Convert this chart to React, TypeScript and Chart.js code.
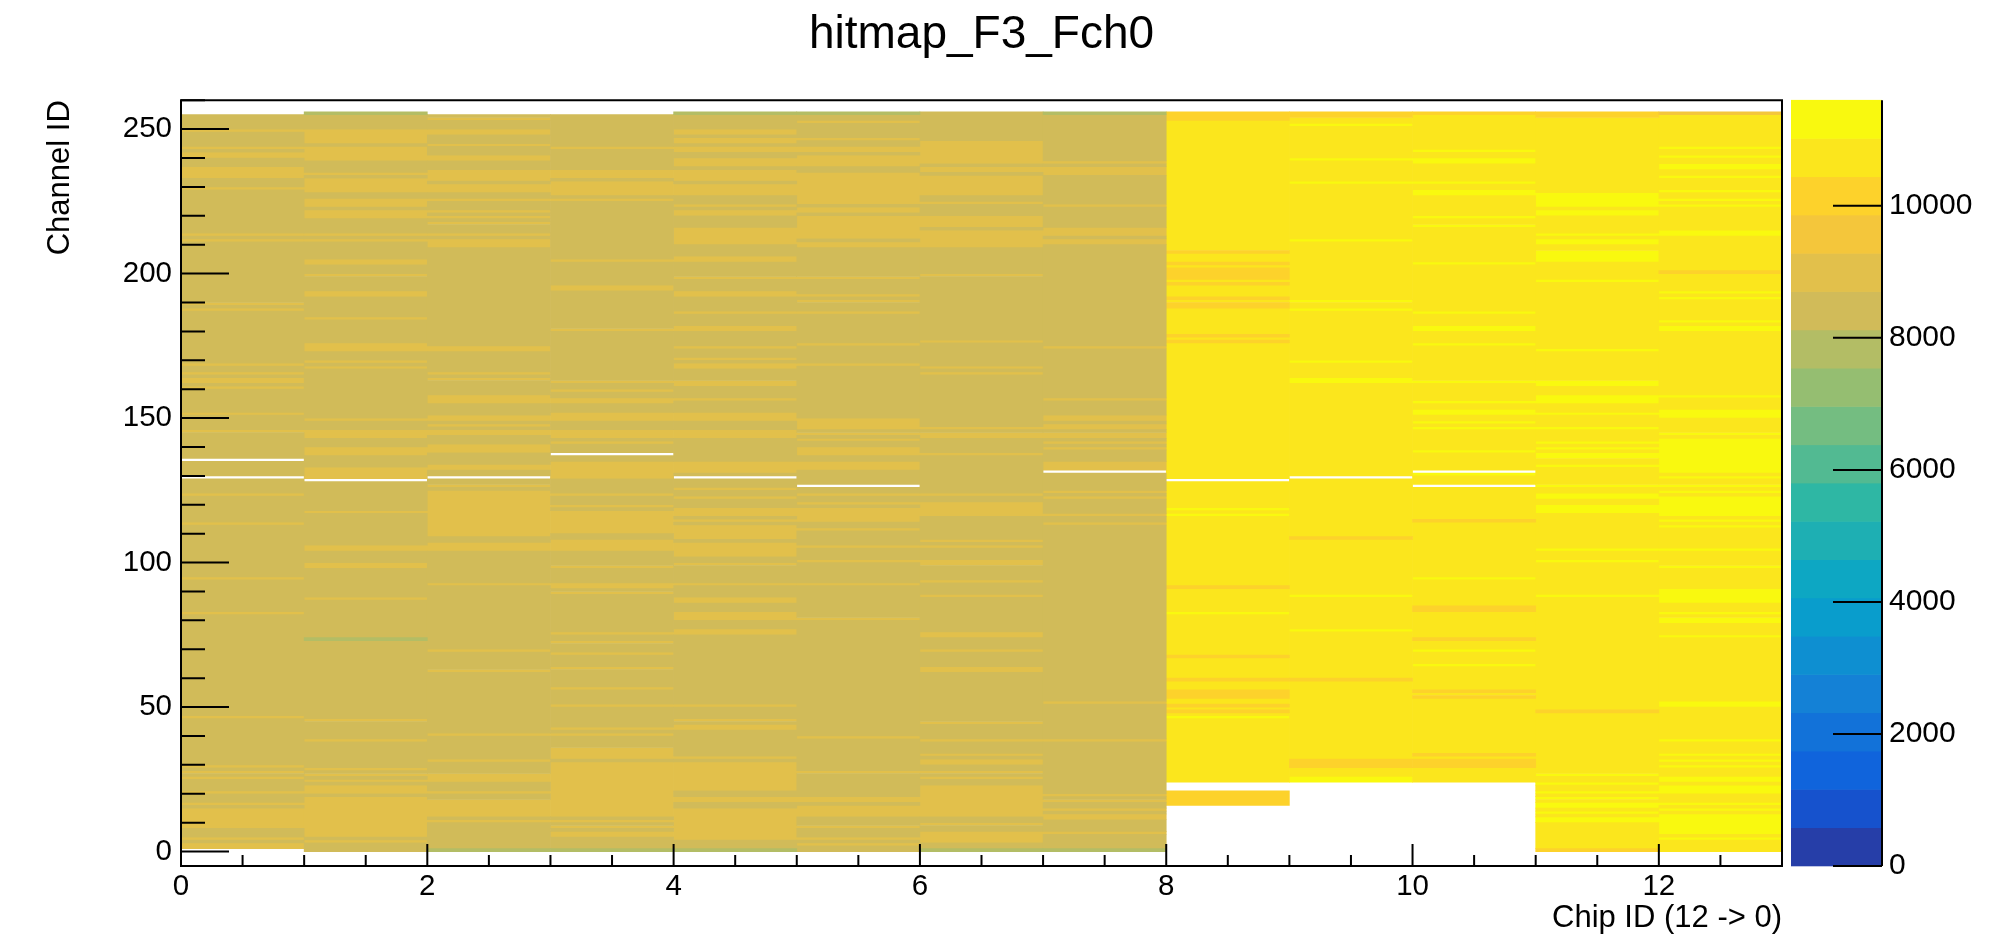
import React, { useEffect, useRef } from "react";
import { Chart, registerables } from "chart.js";

Chart.register(...registerables);

type Stripe = [number, number, number]; // [first channel, last channel, hits]

const chartTitle = "hitmap_F3_Fch0";
const xAxisTitle = "Chip ID (12 -> 0)";
const yAxisTitle = "Channel ID";

const chipIds = [0, 1, 2, 3, 4, 5, 6, 7, 8, 9, 10, 11, 12];
const xLimits = [0, 13];
const yLimits = [-5, 260];
const zLimits = [0, 11600];
const zContours = 20;
const xMajorTicks = [0, 2, 4, 6, 8, 10, 12];
const xAllTicks = [0, 0.5, 1, 1.5, 2, 2.5, 3, 3.5, 4, 4.5, 5, 5.5, 6, 6.5, 7, 7.5, 8, 8.5, 9, 9.5, 10, 10.5, 11, 11.5, 12, 12.5, 13];
const yMajorTicks = [0, 50, 100, 150, 200, 250];
const yAllTicks = [0, 10, 20, 30, 40, 50, 60, 70, 80, 90, 100, 110, 120, 130, 140, 150, 160, 170, 180, 190, 200, 210, 220, 230, 240, 250, 260];
const zMajorTicks = [0, 2000, 4000, 6000, 8000, 10000];

const chipFirstChannel = [1, 0, 0, 0, 0, 0, 0, 0, 16, 24, 24, 0, 0];
const chipLastChannel = [254, 255, 254, 254, 255, 255, 255, 255, 255, 255, 255, 255, 255];
const chipBaseHits = [8400, 8400, 8400, 8400, 8400, 8400, 8400, 8400, 10700, 10700, 10700, 10700, 10700];
const chipEmptyChannels = [[135, 129], [128], [129], [137], [129], [126], [], [131], [21, 22, 23, 128], [129], [131, 126], [], []];

const chip00: Stripe[] = [
  [249, 249, 9000], [243, 243, 9000], [240, 241, 9000], [233, 236, 9000], [229, 229, 9000], [213, 213, 9000], [211, 211, 9000],
  [189, 189, 9000], [187, 187, 9000], [168, 168, 9000], [165, 165, 9000], [162, 163, 9000], [160, 160, 9000], [151, 151, 9000], [145, 145, 9000],
  [123, 123, 9000], [113, 113, 9000], [94, 94, 9000], [82, 82, 9000], [46, 46, 9000], [29, 29, 9000], [27, 27, 9000], [25, 25, 9000],
  [20, 20, 9000], [16, 16, 9000], [8, 14, 9000], [4, 4, 9000], [1, 2, 9000],
];
const chip01: Stripe[] = [
  [255, 255, 7800], [245, 249, 9000], [239, 243, 9000], [234, 234, 9000], [232, 232, 9000], [228, 231, 9000], [223, 225, 9000], [219, 221, 9000],
  [213, 213, 9000], [211, 211, 9000], [203, 204, 9000], [199, 199, 9000], [192, 193, 9000], [184, 184, 9000], [173, 175, 9000], [169, 169, 9000],
  [167, 167, 9000], [149, 149, 9000], [143, 145, 9000], [137, 139, 9000], [129, 132, 9000],
  [117, 117, 9000], [104, 105, 9000], [98, 99, 9000], [87, 87, 9000], [73, 73, 7800], [45, 45, 9000], [38, 38, 9000], [28, 28, 9000],
  [26, 26, 9000], [24, 24, 9000], [20, 22, 9000], [5, 18, 9000], [3, 3, 9000],
];
const chip02: Stripe[] = [
  [253, 253, 9000], [248, 249, 9000], [244, 244, 9000], [239, 240, 9000], [232, 235, 9000], [228, 230, 9000], [225, 225, 9000], [221, 221, 9000],
  [219, 219, 9000], [217, 217, 9000], [213, 213, 9000], [209, 211, 9000], [173, 174, 9000], [165, 165, 9000], [163, 163, 9000], [155, 157, 9000],
  [149, 150, 9000], [147, 147, 9000], [144, 145, 9000], [138, 140, 9000], [132, 133, 9000],
  [126, 126, 9000], [109, 124, 9000], [104, 106, 9000], [92, 92, 9000], [69, 69, 9000], [62, 62, 9000], [40, 40, 9000], [31, 31, 9000],
  [24, 26, 9000], [20, 20, 9000], [12, 17, 9000], [10, 10, 9000], [0, 0, 7800],
];
const chip03: Stripe[] = [
  [243, 243, 9000], [233, 235, 9000], [227, 231, 9000], [225, 225, 9000], [204, 204, 9000], [194, 195, 9000], [180, 180, 9000], [162, 162, 9000],
  [159, 159, 9000], [155, 156, 9000], [149, 151, 9000], [143, 145, 9000], [141, 141, 9000], [129, 134, 9000],
  [123, 123, 9000], [119, 119, 9000], [110, 117, 9000], [104, 107, 9000], [98, 98, 9000], [91, 92, 9000], [89, 89, 9000], [75, 75, 9000],
  [72, 72, 9000], [68, 68, 9000], [63, 63, 9000], [56, 56, 9000], [50, 50, 9000], [42, 42, 9000], [40, 40, 9000], [32, 35, 9000],
  [12, 30, 9000], [10, 10, 9000], [8, 8, 9000], [5, 6, 9000], [0, 0, 7800],
];
const chip04: Stripe[] = [
  [255, 255, 7800], [248, 249, 9000], [245, 246, 9000], [242, 243, 9000], [237, 239, 9000], [232, 235, 9000], [227, 230, 9000], [223, 223, 9000],
  [220, 221, 9000], [210, 215, 9000], [204, 205, 9000], [198, 198, 9000], [192, 193, 9000], [186, 186, 9000], [180, 181, 9000], [174, 174, 9000],
  [170, 170, 9000], [167, 168, 9000], [161, 162, 9000], [156, 156, 9000], [149, 151, 9000], [143, 145, 9000], [131, 134, 9000],
  [125, 125, 9000], [122, 122, 9000], [116, 118, 9000], [114, 114, 9000], [108, 112, 9000], [102, 106, 9000], [99, 99, 9000], [92, 92, 9000],
  [86, 87, 9000], [80, 82, 9000], [75, 76, 9000], [50, 50, 9000], [45, 45, 9000], [42, 43, 9000], [32, 32, 9000], [21, 30, 9000],
  [17, 18, 9000], [4, 14, 9000], [0, 0, 7800],
];
const chip05: Stripe[] = [
  [255, 255, 7800], [252, 252, 9000], [246, 246, 9000], [242, 243, 9000], [237, 240, 9000], [234, 234, 9000], [224, 233, 9000], [221, 222, 9000],
  [212, 219, 9000], [209, 210, 9000], [198, 198, 9000], [192, 192, 9000], [190, 190, 9000], [186, 186, 9000], [175, 175, 9000], [168, 168, 9000],
  [146, 149, 9000], [144, 144, 9000], [142, 142, 9000], [137, 139, 9000], [132, 134, 9000],
  [123, 123, 9000], [120, 120, 9000], [114, 118, 9000], [111, 111, 9000], [105, 105, 9000], [100, 100, 9000], [92, 92, 9000], [80, 80, 9000],
  [39, 39, 9000], [27, 27, 9000], [17, 18, 9000], [12, 15, 9000], [8, 8, 9000], [4, 4, 9000], [2, 2, 9000],
];
const chip06: Stripe[] = [
  [238, 245, 9000], [235, 236, 9000], [227, 233, 9000], [224, 224, 9000], [216, 219, 9000], [209, 214, 9000], [199, 199, 9000], [176, 176, 9000],
  [167, 167, 9000], [165, 165, 9000], [146, 146, 9000], [143, 144, 9000], [137, 137, 9000],
  [123, 123, 9000], [116, 120, 9000], [107, 107, 9000], [105, 105, 9000], [99, 100, 9000], [93, 93, 9000], [88, 88, 9000], [74, 75, 9000],
  [69, 69, 9000], [62, 63, 9000], [44, 44, 9000], [38, 38, 9000], [33, 33, 9000], [30, 31, 9000], [27, 27, 9000], [25, 25, 9000],
  [12, 22, 9000], [9, 9, 9000], [3, 6, 9000], [0, 0, 7800],
];
const chip07: Stripe[] = [
  [255, 255, 7800], [238, 238, 9000], [234, 236, 9000], [223, 223, 9000], [213, 215, 9000], [210, 211, 9000], [174, 174, 9000], [156, 156, 9000],
  [149, 150, 9000], [146, 147, 9000], [143, 144, 9000], [141, 141, 9000], [139, 139, 9000], [132, 134, 9000],
  [124, 124, 9000], [122, 122, 9000], [116, 116, 9000], [113, 113, 9000], [51, 51, 9000], [38, 38, 9000], [19, 19, 9000], [17, 17, 9000],
  [14, 14, 9000], [11, 12, 9000], [6, 6, 9000], [0, 0, 7800],
];
const chip08: Stripe[] = [
  [253, 255, 10150], [207, 207, 10150], [203, 203, 10150], [198, 201, 10150], [196, 196, 10150], [191, 191, 10150], [188, 189, 10150],
  [178, 178, 10150], [176, 176, 10150],
  [118, 118, 11300], [116, 116, 11300], [91, 91, 10150], [82, 82, 11300], [67, 67, 10150], [59, 59, 10150], [53, 55, 10150], [50, 50, 10150],
  [48, 48, 10150], [46, 46, 11300], [16, 20, 10150],
];
const chip09: Stripe[] = [
  [254, 255, 10150], [251, 251, 11300], [239, 239, 11300], [231, 231, 11300], [211, 211, 11300], [190, 190, 11300], [187, 187, 11300],
  [169, 169, 11300], [162, 163, 11300],
  [108, 108, 10150], [88, 88, 11300], [76, 76, 11300], [59, 59, 10150], [29, 31, 10150], [24, 25, 11300],
];
const chip10: Stripe[] = [
  [255, 255, 10150], [242, 242, 11300], [238, 239, 11300], [231, 231, 11300], [227, 228, 11300], [219, 219, 11300], [216, 216, 11300],
  [203, 203, 11300], [186, 186, 11300], [180, 181, 11300], [175, 175, 11300], [162, 162, 11300], [155, 155, 11300], [151, 152, 11300],
  [148, 148, 11300], [146, 146, 11300], [138, 138, 11300], [130, 130, 11300],
  [114, 114, 10150], [94, 94, 11300], [83, 84, 10150], [73, 73, 10150], [69, 69, 11300], [64, 64, 11300], [55, 55, 10150], [53, 53, 10150],
  [33, 33, 10150], [29, 31, 10150],
];
const chip11: Stripe[] = [
  [254, 255, 10150], [223, 227, 11300], [220, 221, 11300], [213, 213, 11300], [210, 211, 11300], [204, 207, 11300], [197, 197, 11300],
  [173, 173, 11300], [161, 162, 11300], [155, 157, 11300], [151, 151, 11300], [146, 146, 11300], [141, 141, 11300], [139, 139, 11300],
  [136, 137, 11300], [133, 133, 11300],
  [126, 126, 11300], [122, 123, 11300], [117, 119, 11300], [104, 104, 11300], [100, 100, 11300], [88, 88, 11300], [48, 48, 10150],
  [26, 26, 11300], [23, 23, 11300], [20, 20, 11300], [18, 18, 11300], [15, 16, 11300], [13, 13, 11300], [10, 11, 11300], [0, 0, 10150],
];
const chip12: Stripe[] = [
  [255, 255, 9600], [243, 243, 11300], [240, 240, 11300], [236, 237, 11300], [233, 233, 11300], [228, 228, 11300], [225, 225, 11300],
  [223, 223, 11300], [213, 214, 11300], [200, 200, 10150], [193, 193, 11300], [191, 191, 11300], [183, 183, 11300], [180, 181, 11300],
  [157, 157, 11300], [150, 152, 11300], [144, 144, 11300], [131, 142, 11300], [129, 129, 11300],
  [126, 126, 11300], [124, 124, 11300], [116, 122, 11300], [114, 114, 11300], [112, 112, 11300], [104, 104, 11300], [98, 98, 11300],
  [86, 90, 11300], [82, 82, 11300], [79, 80, 11300], [74, 74, 11300], [50, 51, 11300], [38, 38, 11300], [33, 33, 11300], [31, 31, 11300],
  [29, 29, 11300], [24, 25, 11300], [20, 22, 11300], [16, 16, 11300], [14, 14, 11300], [6, 12, 11300], [4, 4, 11300],
];
const chipStripes = [chip00, chip01, chip02, chip03, chip04, chip05, chip06, chip07, chip08, chip09, chip10, chip11, chip12];

// ROOT kBird palette (style)
const birdStops = [0, 0.125, 0.25, 0.375, 0.5, 0.625, 0.75, 0.875, 1];
const birdRed = [0.2082, 0.0592, 0.078, 0.0232, 0.1802, 0.5301, 0.8186, 0.9956, 0.9764];
const birdGreen = [0.1664, 0.3599, 0.5041, 0.6419, 0.7178, 0.7492, 0.7328, 0.7862, 0.9832];
const birdBlue = [0.5293, 0.8684, 0.8385, 0.7914, 0.6425, 0.4662, 0.3499, 0.1968, 0.0539];

function buildContourColors(): string[] {
  const n = 255;
  const pal: string[] = [];
  for (let g = 1; g < birdStops.length; g++) {
    const s = Math.floor(n * birdStops[g - 1]);
    const e = Math.floor(n * birdStops[g]);
    const len = e - s;
    for (let c = 0; c < len; c++) {
      const t = c / len;
      const r = birdRed[g - 1] + (birdRed[g] - birdRed[g - 1]) * t;
      const gg = birdGreen[g - 1] + (birdGreen[g] - birdGreen[g - 1]) * t;
      const b = birdBlue[g - 1] + (birdBlue[g] - birdBlue[g - 1]) * t;
      pal.push(`rgb(${Math.round(r * 255)},${Math.round(gg * 255)},${Math.round(b * 255)})`);
    }
  }
  const out: string[] = [];
  for (let k = 0; k < zContours; k++) {
    const idx = Math.min(pal.length - 1, Math.floor(((k + 0.99) * n) / zContours));
    out.push(pal[idx]);
  }
  return out;
}
const contourColors = buildContourColors();
const contourWidth = (zLimits[1] - zLimits[0]) / zContours;
const levelOf = (h: number) => Math.max(0, Math.min(zContours - 1, Math.floor((h - zLimits[0]) / contourWidth)));

function buildDatasets() {
  const byLevel = new Map<number, { x: number; y: [number, number] }[]>();
  chipIds.forEach((chip, i) => {
    const col: (number | null)[] = new Array(256).fill(null);
    for (let c = chipFirstChannel[i]; c <= chipLastChannel[i]; c++) col[c] = chipBaseHits[i];
    chipStripes[i].forEach(([a, b, h]) => {
      for (let c = a; c <= b; c++) col[c] = h;
    });
    chipEmptyChannels[i].forEach((c) => (col[c] = null));
    let start = 0;
    for (let c = 1; c <= 256; c++) {
      if (c === 256 || col[c] !== col[start]) {
        const h = col[start];
        if (h !== null) {
          const lv = levelOf(h);
          if (!byLevel.has(lv)) byLevel.set(lv, []);
          byLevel.get(lv)!.push({ x: chip + 0.5, y: [start, c] });
        }
        start = c;
      }
    }
  });
  return Array.from(byLevel.keys())
    .sort((a, b) => a - b)
    .map((lv) => ({
      label: `level ${lv}`,
      data: byLevel.get(lv)!,
      backgroundColor: contourColors[lv],
      borderWidth: 0,
      grouped: false,
      barPercentage: 1,
      categoryPercentage: 1,
    }));
}

const FONT = "'Liberation Sans', Arial, Helvetica, sans-serif";

const rootDecor = {
  id: "rootDecor",
  beforeDatasetsDraw(chart: any) {
    const { ctx, chartArea: ca, scales } = chart;
    const z = scales.z;
    const left = ca.right + 9;
    const right = ca.right + 100;
    ctx.save();
    for (let k = 0; k < zContours; k++) {
      const yTop = z.getPixelForValue(zLimits[0] + (k + 1) * contourWidth);
      const yBot = z.getPixelForValue(zLimits[0] + k * contourWidth);
      ctx.fillStyle = contourColors[k];
      ctx.fillRect(left, yTop - 0.3, right - left, yBot - yTop + 0.6);
    }
    ctx.restore();
  },
  afterDraw(chart: any) {
    const { ctx, chartArea: ca, scales } = chart;
    const x = scales.x;
    const y = scales.y;
    const z = scales.z;
    ctx.save();
    ctx.strokeStyle = "#000";
    ctx.lineWidth = 2;
    ctx.beginPath();
    ctx.rect(ca.left, ca.top, ca.right - ca.left, ca.bottom - ca.top);
    ctx.stroke();
    ctx.beginPath();
    xAllTicks.forEach((v) => {
      const px = x.getPixelForValue(v);
      const len = xMajorTicks.includes(v) ? 22 : 11;
      ctx.moveTo(px, ca.bottom);
      ctx.lineTo(px, ca.bottom - len);
    });
    yAllTicks.forEach((v) => {
      const py = y.getPixelForValue(v);
      const len = yMajorTicks.includes(v) ? 48 : 24;
      ctx.moveTo(ca.left, py);
      ctx.lineTo(ca.left + len, py);
    });
    const cbx = ca.right + 100;
    ctx.moveTo(cbx, ca.top);
    ctx.lineTo(cbx, ca.bottom);
    zMajorTicks.forEach((v) => {
      const py = z.getPixelForValue(v);
      ctx.moveTo(cbx, py);
      ctx.lineTo(cbx - 49, py);
    });
    ctx.stroke();
    ctx.restore();
  },
};

export default function App() {
  const ref = useRef<HTMLCanvasElement>(null);
  useEffect(() => {
    Chart.defaults.font.family = FONT;
    const chart = new Chart(ref.current as HTMLCanvasElement, {
      type: "bar",
      data: { datasets: buildDatasets() as any },
      options: {
        animation: false,
        responsive: false,
        events: [],
        layout: { padding: { left: 0, top: 0, right: 0, bottom: 0 } },
        plugins: {
          legend: { display: false },
          tooltip: { enabled: false },
          title: {
            display: true,
            fullSize: false,
            align: "center",
            text: chartTitle,
            color: "#000",
            font: { family: FONT, size: 46, weight: "normal", lineHeight: 1.2 },
            padding: { top: 8, bottom: 37 },
          },
        },
        scales: {
          x: {
            type: "linear",
            min: xLimits[0],
            max: xLimits[1],
            offset: false,
            grid: { display: false, drawTicks: false, offset: false },
            border: { display: false },
            afterBuildTicks: (s: any) => {
              s.ticks = xMajorTicks.map((v) => ({ value: v }));
            },
            ticks: {
              autoSkip: false,
              maxRotation: 0,
              padding: 6,
              color: "#000",
              font: { family: FONT, size: 29.5, lineHeight: 1 },
              callback: (v: any) => String(v),
            },
            title: {
              display: true,
              text: xAxisTitle,
              align: "end",
              color: "#000",
              font: { family: FONT, size: 31, lineHeight: 1 },
              padding: { top: 0, bottom: 2 },
            },
            afterFit: (s: any) => {
              s.height = 70;
            },
          },
          y: {
            type: "linear",
            min: yLimits[0],
            max: yLimits[1],
            grid: { display: false, drawTicks: false },
            border: { display: false },
            afterBuildTicks: (s: any) => {
              s.ticks = yMajorTicks.map((v) => ({ value: v }));
            },
            ticks: {
              autoSkip: false,
              padding: 9,
              color: "#000",
              font: { family: FONT, size: 29.5, lineHeight: 1 },
              callback: (v: any) => String(v),
            },
            title: {
              display: true,
              text: yAxisTitle,
              align: "end",
              color: "#000",
              font: { family: FONT, size: 31, lineHeight: 1 },
              padding: { top: 45, bottom: 0 },
            },
            afterFit: (s: any) => {
              s.width = 181;
            },
          },
          z: {
            type: "linear",
            position: "right",
            min: zLimits[0],
            max: zLimits[1],
            grid: { display: true, drawOnChartArea: false, drawTicks: true, tickLength: 100, tickColor: "rgba(0,0,0,0)", color: "rgba(0,0,0,0)" },
            border: { display: false },
            afterBuildTicks: (s: any) => {
              s.ticks = zMajorTicks.map((v) => ({ value: v }));
            },
            ticks: {
              autoSkip: false,
              padding: 7,
              color: "#000",
              font: { family: FONT, size: 30, lineHeight: 1 },
              callback: (v: any) => String(v),
            },
            afterFit: (s: any) => {
              s.width = 231;
            },
          },
        },
      } as any,
      plugins: [rootDecor],
    });
    return () => chart.destroy();
  }, []);
  return (
    <div style={{ position: "absolute", left: 0, top: 0, width: 2013, height: 936, background: "#fff" }}>
      <canvas ref={ref} width={2013} height={936} style={{ display: "block", width: 2013, height: 936 }} />
    </div>
  );
}
